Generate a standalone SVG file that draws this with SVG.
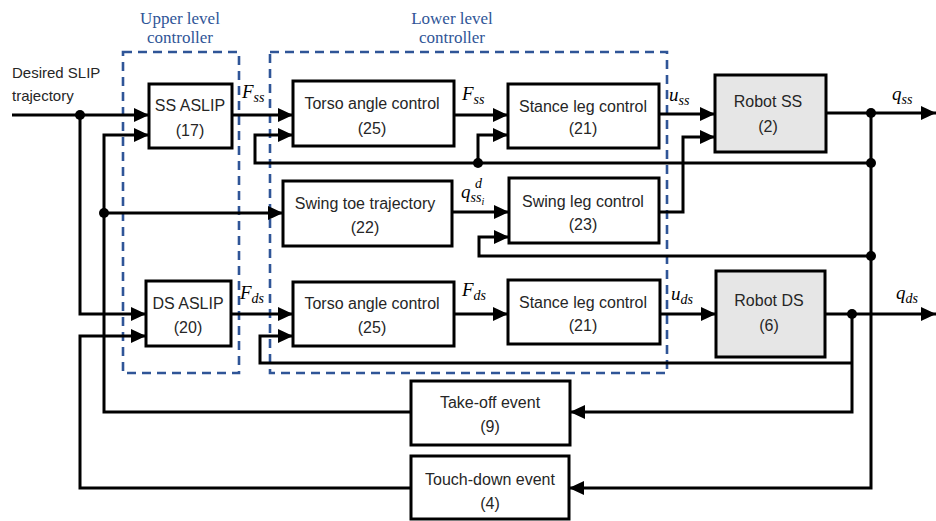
<svg xmlns="http://www.w3.org/2000/svg" width="936" height="521" viewBox="0 0 936 521">
<style>
.box{fill:#fff;stroke:#000;stroke-width:3}
.gray{fill:#e6e6e6}
.t{font-family:"Liberation Sans",Arial,sans-serif;font-size:16px;fill:#262626;text-anchor:middle}
.lbl{font-family:"Liberation Sans",Arial,sans-serif;font-size:15px;fill:#262626}
.grp{fill:none;stroke:#2F5597;stroke-width:2.6;stroke-dasharray:9,6}
.gt{font-family:"Liberation Serif","Times New Roman",serif;font-size:17px;fill:#2F5597;text-anchor:middle}
.m{font-family:"Liberation Serif","Times New Roman",serif;font-style:italic;font-size:19px;fill:#000}
.s{font-size:14px}
.ss{font-size:10px}
.c{fill:none;stroke:#000;stroke-width:3;marker-end:url(#ah)}
.dot{fill:#000}
</style>
<defs>
<marker id="ah" markerWidth="16" markerHeight="14" refX="15" refY="7" orient="auto" markerUnits="userSpaceOnUse">
<path d="M0,0 L15,7 L0,14 z" fill="#000"/>
</marker>
</defs>

<g id="groups">
<rect class="grp" x="123" y="52" width="116" height="321"/>
<rect class="grp" x="270" y="52" width="397" height="321"/>
<text class="gt" x="180" y="24">Upper level</text>
<text class="gt" x="180" y="43">controller</text>
<text class="gt" x="452" y="24">Lower level</text>
<text class="gt" x="452" y="43">controller</text>
</g>

<g id="input-label">
<text class="lbl" x="12" y="78">Desired SLIP</text>
<text class="lbl" x="12" y="101">trajectory</text>
</g>

<g id="connectors">
<path class="c" d="M12,115 H149"/>
<path class="c" d="M232,115 H293"/>
<path class="c" d="M454,115 H508"/>
<path class="c" d="M659,114 H715"/>
<path class="c" d="M826,113 H936"/>
<path class="c" d="M871,113 V488 H569"/>
<path class="c" d="M871,163 H255 V135 H293"/>
<path class="c" d="M478,163 V135 H508"/>
<path class="c" d="M871,256 H479 V237 H509"/>
<path class="c" d="M452,212 H509"/>
<path class="c" d="M659,212 H683 V137 H715"/>
<path class="c" d="M80,115 V314 H146"/>
<path class="c" d="M411,412 H104 V135 H149"/>
<path class="c" d="M104,213 H283"/>
<path class="c" d="M411,488 H80 V336 H146"/>
<path class="c" d="M231,314 H293"/>
<path class="c" d="M454,314 H508"/>
<path class="c" d="M660,314 H716"/>
<path class="c" d="M825,314 H936"/>
<path class="c" d="M852,314 V412 H570"/>
<path class="c" d="M852,363 H260 V336 H293"/>
<circle class="dot" cx="80" cy="115" r="5"/>
<circle class="dot" cx="104" cy="213" r="5"/>
<circle class="dot" cx="478" cy="163" r="5"/>
<circle class="dot" cx="871" cy="113" r="5"/>
<circle class="dot" cx="871" cy="163" r="5"/>
<circle class="dot" cx="871" cy="256" r="5"/>
<circle class="dot" cx="852" cy="314" r="5"/>
</g>

<g id="signal-labels">
<text class="m" x="242" y="98">F<tspan class="s" dy="4">ss</tspan></text>
<text class="m" x="462" y="100">F<tspan class="s" dy="4">ss</tspan></text>
<text class="m" x="669" y="101">u<tspan class="s" dy="4">ss</tspan></text>
<text class="m" x="892" y="100">q<tspan class="s" dy="4">ss</tspan></text>
<text class="m" x="461" y="198">q<tspan class="s" dy="4">ss</tspan><tspan class="ss" dy="3">i</tspan><tspan class="s" x="475" y="188">d</tspan></text>
<text class="m" x="240" y="299">F<tspan class="s" dy="4">ds</tspan></text>
<text class="m" x="462" y="296">F<tspan class="s" dy="4">ds</tspan></text>
<text class="m" x="671" y="300">u<tspan class="s" dy="4">ds</tspan></text>
<text class="m" x="896" y="299">q<tspan class="s" dy="4">ds</tspan></text>
</g>

<g id="ss-aslip">
<rect class="box" x="149" y="84" width="83" height="64"/>
<text class="t" x="190" y="111">SS ASLIP</text>
<text class="t" x="190" y="136">(17)</text>
</g>
<g id="torso-ss">
<rect class="box" x="293" y="81" width="161" height="65"/>
<text class="t" x="372" y="109">Torso angle control</text>
<text class="t" x="372" y="134">(25)</text>
</g>
<g id="stance-ss">
<rect class="box" x="508" y="84" width="151" height="64"/>
<text class="t" x="583" y="112">Stance leg control</text>
<text class="t" x="583" y="134">(21)</text>
</g>
<g id="robot-ss">
<rect class="box gray" x="715" y="75" width="111" height="77"/>
<text class="t" x="768" y="107">Robot SS</text>
<text class="t" x="768" y="132">(2)</text>
</g>
<g id="swing-toe">
<rect class="box" x="283" y="181" width="169" height="65"/>
<text class="t" x="365" y="209">Swing toe trajectory</text>
<text class="t" x="365" y="233">(22)</text>
</g>
<g id="swing-leg">
<rect class="box" x="509" y="178" width="150" height="65"/>
<text class="t" x="583" y="207">Swing leg control</text>
<text class="t" x="583" y="230">(23)</text>
</g>
<g id="ds-aslip">
<rect class="box" x="146" y="281" width="85" height="65"/>
<text class="t" x="188" y="309">DS ASLIP</text>
<text class="t" x="188" y="333">(20)</text>
</g>
<g id="torso-ds">
<rect class="box" x="293" y="282" width="161" height="64"/>
<text class="t" x="372" y="309">Torso angle control</text>
<text class="t" x="372" y="333">(25)</text>
</g>
<g id="stance-ds">
<rect class="box" x="508" y="280" width="152" height="64"/>
<text class="t" x="583" y="308">Stance leg control</text>
<text class="t" x="583" y="331">(21)</text>
</g>
<g id="robot-ds">
<rect class="box gray" x="716" y="271" width="109" height="86"/>
<text class="t" x="769" y="306">Robot DS</text>
<text class="t" x="769" y="331">(6)</text>
</g>
<g id="take-off">
<rect class="box" x="411" y="381" width="159" height="64"/>
<text class="t" x="490" y="408">Take-off event</text>
<text class="t" x="490" y="432">(9)</text>
</g>
<g id="touch-down">
<rect class="box" x="411" y="456" width="158" height="63"/>
<text class="t" x="490" y="485">Touch-down event</text>
<text class="t" x="490" y="509">(4)</text>
</g>
</svg>
